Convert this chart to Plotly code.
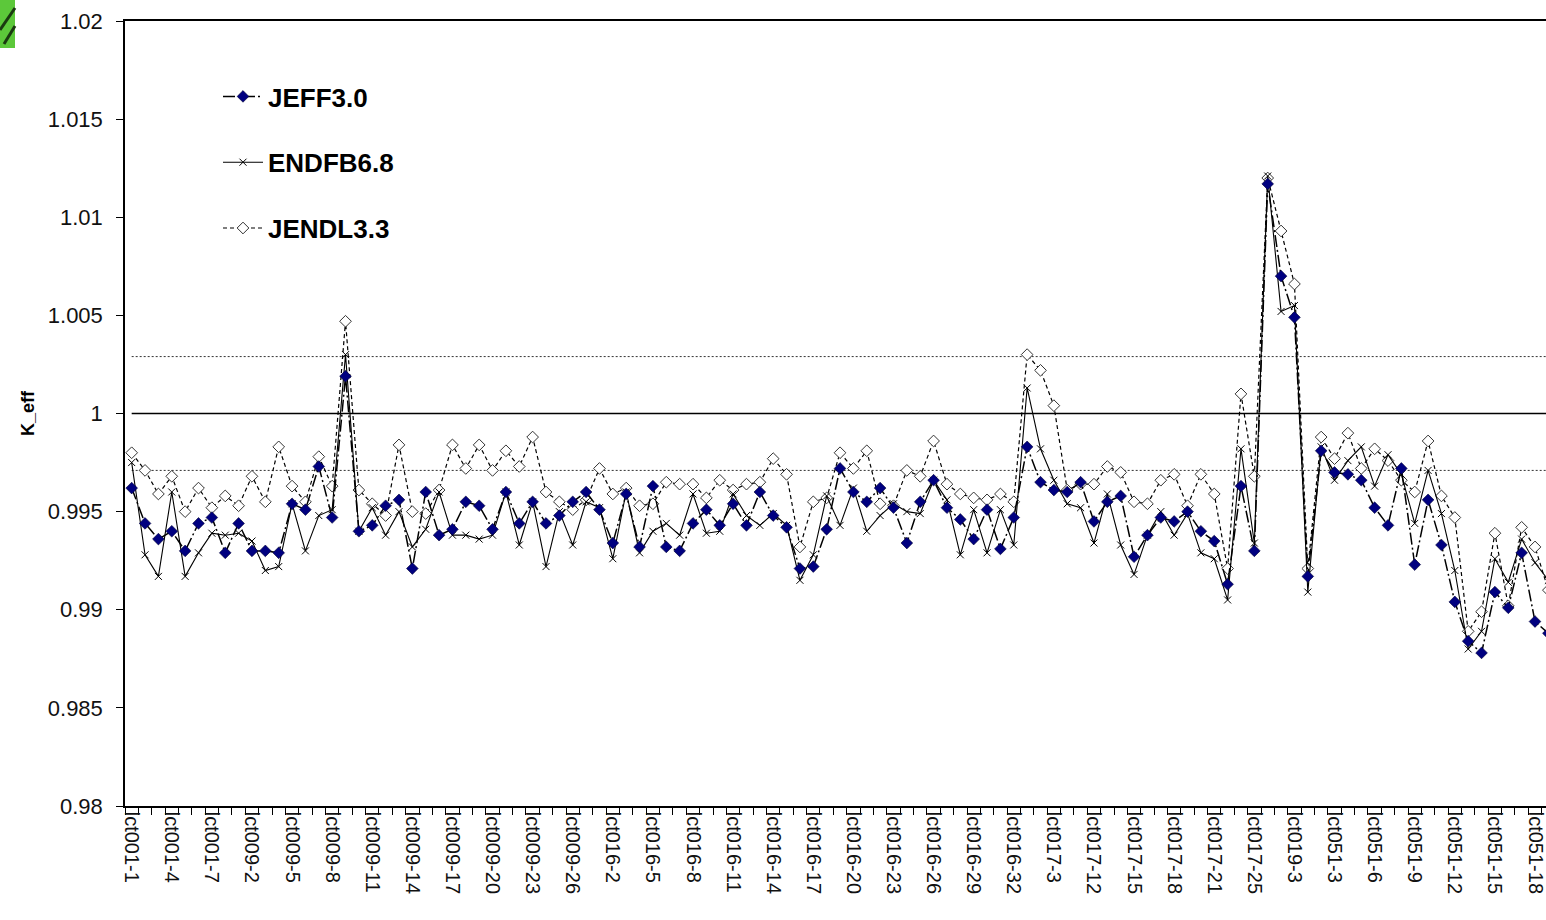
import plotly.graph_objects as go

# ---------------- data ----------------
categories = (
    [f"lct001-{i}" for i in range(1, 9)]
    + [f"lct009-{i}" for i in range(1, 28)]
    + [f"lct016-{i}" for i in range(1, 33)]
    + ["lct017-1", "lct017-2", "lct017-3"]
    + [f"lct017-{i}" for i in range(10, 22)]
    + ["lct017-23", "lct017-24", "lct017-25"]
    + ["lct019-1", "lct019-2", "lct019-3"]
    + [f"lct051-{i}" for i in range(1, 20)]
)

jeff30 = [
    0.9962, 0.9944, 0.9936, 0.9940, 0.9930, 0.9944, 0.9947, 0.9929, 0.9944, 0.9930,
    0.9930, 0.9929, 0.9954, 0.9951, 0.9973, 0.9947, 1.0019, 0.9940, 0.9943, 0.9953,
    0.9956, 0.9921, 0.9960, 0.9938, 0.9941, 0.9955, 0.9953, 0.9941, 0.9960, 0.9944,
    0.9955, 0.9944, 0.9948, 0.9955, 0.9960, 0.9951, 0.9934, 0.9959, 0.9932, 0.9963,
    0.9932, 0.9930, 0.9944, 0.9951, 0.9943, 0.9954, 0.9943, 0.9960, 0.9948, 0.9942,
    0.9921, 0.9922, 0.9941, 0.9972, 0.9960, 0.9955, 0.9962, 0.9952, 0.9934, 0.9955,
    0.9966, 0.9952, 0.9946, 0.9936, 0.9951, 0.9931, 0.9947, 0.9983, 0.9965, 0.9961,
    0.9960, 0.9965, 0.9945, 0.9955, 0.9958, 0.9927, 0.9938, 0.9947, 0.9945, 0.9950,
    0.9940, 0.9935, 0.9913, 0.9963, 0.9930, 1.0117, 1.0070, 1.0049, 0.9917, 0.9981,
    0.9970, 0.9969, 0.9966, 0.9952, 0.9943, 0.9972, 0.9923, 0.9956, 0.9933, 0.9904,
    0.9884, 0.9878, 0.9909, 0.9901, 0.9929, 0.9894, 0.9888,
]

endfb68 = [
    0.9975, 0.9928, 0.9917, 0.9960, 0.9917, 0.9929, 0.9939, 0.9938, 0.9939, 0.9935,
    0.9920, 0.9922, 0.9954, 0.9930, 0.9948, 0.9951, 1.0030, 0.9940, 0.9952, 0.9938,
    0.9950, 0.9932, 0.9941, 0.9960, 0.9938, 0.9938, 0.9936, 0.9938, 0.9960, 0.9933,
    0.9955, 0.9922, 0.9950, 0.9933, 0.9955, 0.9952, 0.9926, 0.9960, 0.9929, 0.9940,
    0.9944, 0.9938, 0.9959, 0.9939, 0.9940, 0.9959, 0.9948, 0.9943, 0.9949, 0.9943,
    0.9915, 0.9928, 0.9958, 0.9943, 0.9962, 0.9940, 0.9948, 0.9954, 0.9950, 0.9949,
    0.9966, 0.9956, 0.9928, 0.9951, 0.9929, 0.9951, 0.9933, 1.0013, 0.9982, 0.9966,
    0.9954, 0.9952, 0.9934, 0.9959, 0.9933, 0.9918, 0.9938, 0.9950, 0.9938, 0.9949,
    0.9929, 0.9926, 0.9905, 0.9982, 0.9934, 1.0121, 1.0052, 1.0055, 0.9909, 0.9983,
    0.9966, 0.9976, 0.9983, 0.9963, 0.9979, 0.9969, 0.9944, 0.9971, 0.9949, 0.9920,
    0.9880, 0.9889, 0.9926, 0.9914, 0.9936, 0.9924, 0.9915,
]

jendl33 = [
    0.9980, 0.9971, 0.9959, 0.9968, 0.9950, 0.9962, 0.9952, 0.9958, 0.9953, 0.9968,
    0.9955, 0.9983, 0.9963, 0.9955, 0.9978, 0.9963, 1.0047, 0.9961, 0.9954, 0.9948,
    0.9984, 0.9950, 0.9949, 0.9961, 0.9984, 0.9972, 0.9984, 0.9971, 0.9981, 0.9973,
    0.9988, 0.9960, 0.9955, 0.9951, 0.9956, 0.9972, 0.9959, 0.9962, 0.9953, 0.9954,
    0.9965, 0.9964, 0.9964, 0.9957, 0.9966, 0.9961, 0.9964, 0.9965, 0.9977, 0.9969,
    0.9932, 0.9955, 0.9957, 0.9980, 0.9972, 0.9981, 0.9954, 0.9953, 0.9971, 0.9968,
    0.9986, 0.9964, 0.9959, 0.9957, 0.9956, 0.9959, 0.9955, 1.0030, 1.0022, 1.0004,
    0.9961, 0.9964, 0.9964, 0.9973, 0.9970, 0.9955, 0.9954, 0.9966, 0.9969, 0.9953,
    0.9969, 0.9959, 0.9921, 1.0010, 0.9968, 1.0120, 1.0093, 1.0066, 0.9921, 0.9988,
    0.9977, 0.9990, 0.9972, 0.9982, 0.9976, 0.9966, 0.9960, 0.9986, 0.9958, 0.9947,
    0.9889, 0.9899, 0.9939, 0.9902, 0.9942, 0.9932, 0.9910,
]

ref_level = 1.0
band_upper = 1.0029
band_lower = 0.9971

y_ticks = [0.98, 0.985, 0.99, 0.995, 1.0, 1.005, 1.01, 1.015, 1.02]
y_tick_text = ["0.98", "0.985", "0.99", "0.995", "1", "1.005", "1.01", "1.015", "1.02"]
label_every = 3

# ---------------- layout constants ----------------
W, H = 1546, 920
ML, MT, MB, MR = 125, 21, 114, 0
PW = W - ML - MR
PH = H - MT - MB

fig = go.Figure()

# reference lines (drawn as series across categories)
fig.add_trace(go.Scatter(x=categories, y=[band_upper] * len(categories), mode="lines",
                         line=dict(color="#333333", width=1, dash="2px,2px"),
                         showlegend=False, hoverinfo="skip"))
fig.add_trace(go.Scatter(x=categories, y=[band_lower] * len(categories), mode="lines",
                         line=dict(color="#333333", width=1, dash="2px,2px"),
                         showlegend=False, hoverinfo="skip"))
fig.add_trace(go.Scatter(x=categories, y=[ref_level] * len(categories), mode="lines",
                         line=dict(color="#000000", width=1.5),
                         showlegend=False, hoverinfo="skip"))

fig.add_trace(go.Scatter(
    x=categories, y=jendl33, name="JENDL3.3", mode="lines+markers",
    line=dict(color="#000000", width=1.2, dash="4px,3px"),
    marker=dict(symbol="diamond", size=9, color="#ffffff",
                line=dict(color="#333333", width=1)),
    legendgroup="c", legendrank=3,
))
fig.add_trace(go.Scatter(
    x=categories, y=endfb68, name="ENDFB6.8", mode="lines+markers",
    line=dict(color="#000000", width=1.1),
    marker=dict(symbol="x-thin-open", size=7, color="#000000",
                line=dict(color="#000000", width=1)),
    legendgroup="b", legendrank=2,
))
fig.add_trace(go.Scatter(
    x=categories, y=jeff30, name="JEFF3.0", mode="lines+markers",
    line=dict(color="#000000", width=1.5, dash="12px,3px,2px,3px"),
    marker=dict(symbol="diamond", size=9, color="#000080",
                line=dict(color="#000033", width=0.6)),
    legendgroup="a", legendrank=1,
))

tick_text = [c if i % label_every == 0 else "" for i, c in enumerate(categories)]

fig.update_layout(
    width=W, height=H,
    margin=dict(l=ML, r=MR, t=MT, b=MB, autoexpand=False),
    paper_bgcolor="#ffffff", plot_bgcolor="#ffffff",
    font=dict(family="Liberation Sans, Arial, sans-serif", color="#111111"),
    showlegend=True,
    legend=dict(
        x=(218 - ML) / PW, y=1 - (73 - MT) / PH, xanchor="left", yanchor="top",
        bgcolor="rgba(0,0,0,0)", borderwidth=0,
        font=dict(size=26, family="Liberation Sans, Arial, sans-serif", color="#000000",
                  weight="bold"),
        tracegroupgap=29, traceorder="grouped", itemwidth=40,
    ),
    xaxis=dict(
        type="category",
        range=[-0.5, -0.5 + PW / 13.365],
        tickmode="array", tickvals=categories, ticktext=tick_text,
        tickson="boundaries",
        ticks="outside", ticklen=7, tickwidth=1, tickcolor="#000000",
        tickangle=90,
        tickfont=dict(size=20, color="#111111"),
        showline=True, linecolor="#000000", linewidth=1.5, mirror=True,
        showgrid=False, zeroline=False, automargin=False,
    ),
    yaxis=dict(
        range=[0.98, 1.02],
        tickmode="array", tickvals=y_ticks, ticktext=y_tick_text,
        ticks="outside", ticklen=7, tickwidth=1, tickcolor="#000000",
        tickfont=dict(size=22, color="#111111"),
        ticklabelstandoff=9,
        showline=True, linecolor="#000000", linewidth=1.5,
        showgrid=False, zeroline=False, automargin=False,
        title=dict(text="<b>K_eff</b>", font=dict(size=18, color="#000000"), standoff=8),
    ),
)

# small green fragment in the top-left corner
fig.add_shape(type="rect", xref="paper", yref="paper",
              x0=(0 - ML) / PW, x1=(15 - ML) / PW, y0=1 + MT / PH, y1=1 - (48 - MT) / PH,
              fillcolor="#5cc83a", line=dict(width=0), layer="above")
for x_a, y_a, x_b, y_b in [(15, 8, 0, 30), (15, 26, 4, 44)]:
    fig.add_shape(type="line", xref="paper", yref="paper",
                  x0=(x_a - ML) / PW, y0=1 - (y_a - MT) / PH,
                  x1=(x_b - ML) / PW, y1=1 - (y_b - MT) / PH,
                  line=dict(color="#1a3a10", width=3), layer="above")

fig.write_html("out.html", config={"displayModeBar": False},
               post_script="document.body.style.margin='0';")
